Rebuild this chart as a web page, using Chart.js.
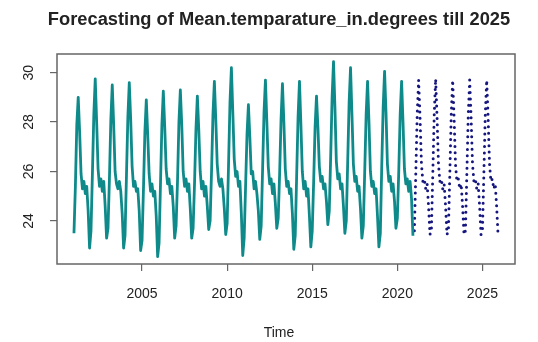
<!DOCTYPE html>
<html>
<head>
<meta charset="utf-8">
<script src="https://cdn.jsdelivr.net/npm/chart.js@4/dist/chart.umd.min.js"></script>
<style>
  html, body { margin: 0; padding: 0; background: #fff; }
  #wrap { width: 538px; height: 342px; }
</style>
</head>
<body>
<div id="wrap"><canvas id="myChart" width="538" height="342"></canvas></div>
<script>
// monthly observed mean temperature, Jan 2001 .. Dec 2020
const observedStart = 2001
const observed = [
  23.5, 25.4, 27.9, 29.0, 27.6, 25.9, 25.3, 25.6, 25.1, 25.4, 24.4, 22.9,
  23.6, 25.9, 28.3, 29.75, 28.0, 26.1, 25.4, 25.7, 25.2, 25.6, 24.6, 23.3,
  23.7, 25.7, 28.1, 29.5, 27.9, 26.0, 25.5, 25.3, 25.6, 25.2, 24.3, 22.9,
  23.4, 25.8, 28.2, 29.6, 28.1, 26.2, 25.4, 25.6, 25.2, 25.3, 24.4, 22.8,
  23.2, 25.3, 27.6, 28.9, 27.5, 25.9, 25.2, 25.5, 25.0, 25.2, 24.2, 22.55,
  23.1, 25.5, 27.9, 29.25, 27.8, 26.1, 25.5, 25.7, 25.1, 25.4, 24.6, 23.3,
  23.8, 25.6, 28.0, 29.3, 27.9, 26.0, 25.4, 25.7, 25.2, 25.5, 24.5, 23.3,
  23.7, 25.5, 27.7, 29.05, 27.7, 26.0, 25.3, 25.6, 25.0, 25.4, 24.6, 23.65,
  24.0, 26.0, 28.3, 29.65, 28.1, 26.3, 25.6, 25.4, 25.7, 25.3, 24.5, 23.45,
  23.9, 26.3, 28.8, 30.2, 28.4, 26.5, 25.8, 26.0, 25.4, 25.6, 24.3, 22.6,
  23.3, 25.4, 27.5, 28.7, 27.4, 25.9, 26.0, 25.3, 25.6, 25.1, 24.4, 23.25,
  23.8, 26.1, 28.4, 29.7, 28.0, 26.2, 25.5, 25.7, 25.1, 25.5, 24.7, 23.7,
  24.1, 25.9, 28.1, 29.55, 28.0, 26.1, 25.4, 25.6, 25.1, 25.3, 24.3, 22.85,
  23.4, 25.8, 28.2, 29.65, 27.9, 26.0, 25.3, 25.6, 25.0, 25.3, 24.2, 22.95,
  23.6, 25.6, 27.8, 29.05, 27.8, 26.2, 25.6, 25.8, 25.3, 25.5, 24.8, 23.85,
  24.4, 26.6, 29.0, 30.45, 28.6, 26.4, 25.7, 25.9, 25.3, 25.5, 24.6, 23.5,
  24.0, 26.4, 28.8, 30.2, 28.3, 26.3, 25.6, 25.8, 25.2, 25.4, 24.5, 23.3,
  23.8, 26.0, 28.3, 29.65, 28.0, 26.0, 25.4, 25.6, 25.1, 25.3, 24.2, 22.95,
  23.5, 26.2, 28.6, 30.05, 28.4, 26.3, 25.6, 25.8, 25.2, 25.5, 24.8, 23.7,
  24.1, 26.0, 28.3, 29.65, 28.0, 26.1, 25.5, 25.7, 25.2, 25.6, 24.9, 23.4
]

// forecast, Jan 2021 .. Dec 2025
const forecastStart = 2021
const forecast = [
  23.6, 25.9, 28.3, 29.7, 28.2, 26.3, 25.6, 25.7, 25.3, 25.5, 24.6, 23.45,
  23.6, 25.9, 28.3, 29.75, 28.2, 26.3, 25.6, 25.7, 25.3, 25.5, 24.6, 23.45,
  23.6, 25.9, 28.3, 29.7, 28.2, 26.3, 25.6, 25.7, 25.3, 25.5, 24.6, 23.45,
  23.6, 25.9, 28.3, 29.7, 28.2, 26.3, 25.6, 25.7, 25.3, 25.5, 24.6, 23.45,
  23.6, 25.9, 28.3, 29.7, 28.2, 26.3, 25.6, 25.7, 25.3, 25.5, 24.6, 23.45
]

const xTicks = [2005, 2010, 2015, 2020, 2025]
const yTicks = [24, 26, 28, 30]

const toPoints = (start, vals) => vals.map((v, i) => ({ x: start + i / 12, y: v }))

const textCol = '#222'
const fontFam = '"Liberation Sans", Arial, sans-serif'

// title, axis title, rotated y labels and the box, R style
const rStyle = {
  id: 'rStyle',
  afterDraw(chart) {
    const c = chart.ctx
    const a = chart.chartArea
    c.save()
    c.strokeStyle = '#666'
    c.lineWidth = 1.5
    c.strokeRect(a.left, a.top, a.right - a.left, a.bottom - a.top)

    c.fillStyle = textCol
    c.textAlign = 'center'
    c.textBaseline = 'alphabetic'
    c.font = 'bold 18.3px ' + fontFam
    c.fillText('Forecasting of Mean.temparature_in.degrees till 2025', 279, 24.5)

    c.font = '14px ' + fontFam
    c.fillText('Time', 279, 337)

    const ys = chart.scales.y
    yTicks.forEach(v => {
      c.save()
      c.translate(32.5, ys.getPixelForValue(v))
      c.rotate(-Math.PI / 2)
      c.fillText(String(v), 0, 0)
      c.restore()
    })
    c.restore()
  }
}

const ctx = document.getElementById('myChart')

new Chart(ctx, {
  type: 'line',
  data: {
    datasets: [
      {
        label: 'observed',
        data: toPoints(observedStart, observed),
        borderColor: '#0f8a8a',
        borderWidth: 2.8,
        pointRadius: 0,
        tension: 0,
        borderJoinStyle: 'round'
      },
      {
        label: 'forecast',
        data: toPoints(forecastStart, forecast),
        borderColor: '#16167f',
        borderWidth: 3,
        borderDash: [0, 6.3],
        borderCapStyle: 'round',
        pointRadius: 0,
        tension: 0
      }
    ]
  },
  options: {
    responsive: false,
    animation: false,
    layout: { padding: { top: 54, right: 23, left: 0, bottom: 0 } },
    plugins: {
      legend: { display: false },
      tooltip: { enabled: false },
      title: { display: false }
    },
    scales: {
      x: {
        type: 'linear',
        min: 2000.003,
        max: 2026.913,
        afterBuildTicks: s => { s.ticks = xTicks.map(v => ({ value: v })) },
        afterFit: s => { s.height = 78 },
        border: { display: false },
        grid: { drawOnChartArea: false, drawTicks: true, tickLength: 7, color: '#666', lineWidth: 1.2 },
        ticks: {
          color: textCol,
          padding: 15,
          maxRotation: 0,
          font: { family: fontFam, size: 14 },
          callback: v => String(v)
        }
      },
      y: {
        min: 22.255,
        max: 30.755,
        afterBuildTicks: s => { s.ticks = yTicks.map(v => ({ value: v })) },
        afterFit: s => { s.width = 57 },
        border: { display: false },
        grid: { drawOnChartArea: false, drawTicks: true, tickLength: 7, color: '#666', lineWidth: 1.2 },
        ticks: { color: 'rgba(0,0,0,0)', callback: () => '' }
      }
    }
  },
  plugins: [rStyle]
})
</script>
</body>
</html>
